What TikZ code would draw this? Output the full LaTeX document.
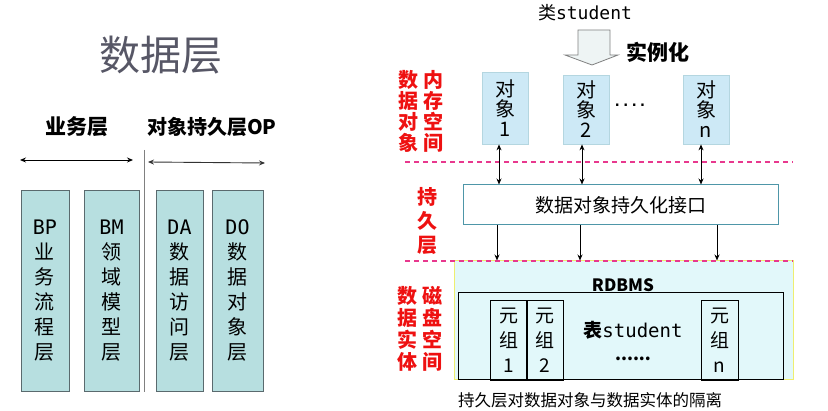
\documentclass[tikz,border=0pt]{standalone}
\usepackage{fontspec}
\setmainfont{Noto Sans CJK SC}
\newfontfamily\monofont{DejaVu Sans Mono}
\usetikzlibrary{arrows.meta}
\definecolor{leftfill}{HTML}{B7DFE0}
\definecolor{leftdraw}{HTML}{5A6A6E}
\definecolor{objfill}{HTML}{CDE9F6}
\definecolor{objdraw}{HTML}{B4D6E0}
\definecolor{dbfill}{HTML}{E2F8FA}
\definecolor{dbdraw}{HTML}{EEEE70}
\definecolor{pinkline}{HTML}{E8388E}
\definecolor{redtxt}{HTML}{EE1111}
\definecolor{titlegray}{HTML}{575766}
\definecolor{ifdraw}{HTML}{4E96A8}
\definecolor{arrfill}{HTML}{EEF4F4}
\tikzset{
  fs/.style={font=\fontsize{#1}{#1}\selectfont},
  colbox/.style={draw=leftdraw, fill=leftfill, line width=0.8pt, minimum height=201pt, inner sep=0pt, align=center, font=\fontsize{20}{25}\selectfont},
  objbox/.style={draw=objdraw, fill=objfill, line width=0.8pt, minimum width=46pt, inner sep=0pt, align=center, font=\fontsize{20}{20}\selectfont},
  redcol/.style={text=redtxt, align=center, inner sep=0pt, font=\bfseries\fontsize{20}{#1}\selectfont},
  tuple/.style={draw=black, line width=0.8pt, minimum width=36pt, minimum height=80pt, inner sep=0pt, align=center, font=\fontsize{19}{25}\selectfont},
  dashsep/.style={draw=pinkline, line width=1.2pt, dash pattern=on 5pt off 4pt},
  tip/.style={-{Stealth[length=6pt,width=5pt]}, line width=0.9pt},
  dtip/.style={{Stealth[length=6pt,width=5pt]}-{Stealth[length=6pt,width=5pt]}, line width=0.9pt}
}
\begin{document}
\begin{tikzpicture}[x=1pt,y=-1pt]
\useasboundingbox (0,0) rectangle (828,411);
% ---------- left part ----------
\node[fs=41, text=titlegray] (title) at (161,55) {数据层};
\node[font=\bfseries\fontsize{21}{21}\selectfont] (bl) at (77,127) {业务层};
\node[font=\bfseries\fontsize{20}{20}\selectfont] (opl) at (212,127) {对象持久层OP};
\coordinate (la1) at (20,160);
\coordinate (la2) at (133,160);
\draw[dtip] (la1) -- (la2);
\coordinate (ra1) at (148,162);
\coordinate (ra2) at (265,163);
\draw[dtip, draw=black!80] (ra1) -- (ra2);
\coordinate (vl1) at (144,150);
\coordinate (vl2) at (144,392);
\draw[gray, line width=1pt] (vl1) -- (vl2);
\node[colbox, minimum width=48pt] (bp) at (45,290.5) {{\monofont BP}\\业\\务\\流\\程\\层};
\node[colbox, minimum width=55pt] (bm) at (111.5,290.5) {{\monofont BM}\\领\\域\\模\\型\\层};
\node[colbox, minimum width=47pt] (da) at (179.5,290.5) {{\monofont DA}\\数\\据\\访\\问\\层};
\node[colbox, minimum width=51pt] (do) at (237.5,290.5) {{\monofont DO}\\数\\据\\对\\象\\层};
% ---------- right part ----------
\node[fs=18] (cls) at (585,13) {类{\monofont student}};
\draw[draw=gray, fill=arrfill, line width=0.8pt] (578,30) -- (610,30) -- (610,55) -- (618,55) -- (592,65) -- (565,55) -- (578,55) -- cycle;
\node[font=\bfseries\fontsize{21}{21}\selectfont] (inst) at (658,52) {实例化};
\node[redcol=21] (r1) at (408,111.5) {数\\据\\对\\象};
\node[redcol=21] (r2) at (433,111.5) {内\\存\\空\\间};
\node[objbox, minimum height=72pt] (o1) at (505,108) {对\\象\\1};
\node[objbox, minimum height=69pt] (o2) at (586,109.5) {对\\象\\2};
\node[objbox, minimum height=69pt] (on) at (706,109.5) {对\\象\\n};
\node[font=\monofont\bfseries\fontsize{14}{14}\selectfont, anchor=base, inner sep=0pt] (dots) at (630,107) {....};
% persistence interface
\node[draw=ifdraw, fill=white, line width=1pt, minimum width=315pt, minimum height=40pt, inner sep=0pt, fs=19] (iface) at (620.5,205) {数据对象持久化接口};
\node[redcol=24] (r3) at (427,221) {持\\久\\层};
% RDBMS region
\node[draw=dbdraw, fill=dbfill, line width=1pt, minimum width=339pt, minimum height=119pt, inner sep=0pt] (db) at (623.5,320.5) {};
\coordinate (d1a) at (405,162);
\coordinate (d1b) at (793,162);
\draw[dashsep] (d1a) -- (d1b);
\coordinate (d2a) at (405,261);
\coordinate (d2b) at (793,261);
\draw[dashsep] (d2a) -- (d2b);
\draw[dtip] ([xshift=-6pt]o1.south) -- ([xshift=-6pt]o1.south |- iface.north);
\draw[dtip] ([xshift=-4pt]o2.south) -- ([xshift=-4pt]o2.south |- iface.north);
\draw[dtip] ([xshift=-5pt]on.south) -- ([xshift=-5pt]on.south |- iface.north);
\coordinate (a1) at (497,225);
\coordinate (a2) at (580,225);
\coordinate (a3) at (717,225);
\draw[tip] (a1) -- (a1 |- db.north);
\draw[tip] (a2) -- (a2 |- db.north);
\draw[tip] (a3) -- (a3 |- db.north);
\node[font=\bfseries\fontsize{17}{17}\selectfont] (rdbms) at (623,285) {RDBMS};
\node[draw=black, line width=1pt, minimum width=325pt, minimum height=87pt, inner sep=0pt] (tbl) at (620.5,336.5) {};
\node[tuple] (t1) at (508.5,340) {元\\组\\1};
\node[tuple] (t2) at (545,340) {元\\组\\2};
\node[tuple, minimum width=37pt] (tn) at (719.5,340) {元\\组\\n};
\node[fs=19] (tname) at (633,330) {\textbf{表}{\monofont student}};
\node[font=\bfseries\fontsize{17}{17}\selectfont] (tdots) at (633,359) {......};
\node[redcol=22] (r4) at (407,328.5) {数\\据\\实\\体};
\node[redcol=22] (r5) at (432,328.5) {磁\\盘\\空\\间};
\node[fs=16.5] (cap) at (590,400) {持久层对数据对象与数据实体的隔离};
\end{tikzpicture}
\end{document}
